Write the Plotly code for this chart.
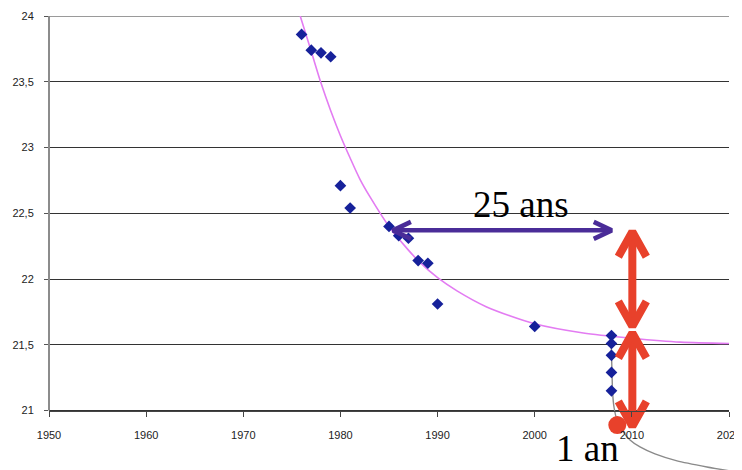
import plotly.graph_objects as go

# ---------------- data ----------------
obs_years = [1976, 1977, 1978, 1979, 1980, 1981, 1985, 1986, 1987, 1988, 1989, 1990, 2000,
             2007.9, 2007.9, 2007.9, 2007.9, 2007.9]
obs_values = [23.86, 23.74, 23.72, 23.69, 22.71, 22.54, 22.40, 22.33, 22.31, 22.14, 22.12, 21.81, 21.64,
              21.57, 21.51, 21.42, 21.29, 21.15]

trend_years = [1975.86, 1977, 1978, 1979, 1980, 1981, 1982, 1983, 1985, 1987, 1988, 1990, 1992,
               1995, 2000, 2005, 2010, 2015, 2020]
trend_values = [24.0, 23.73, 23.49, 23.28, 23.09, 22.92, 22.76, 22.63, 22.40, 22.22, 22.14, 22.01,
                21.91, 21.79, 21.66, 21.59, 21.55, 21.52, 21.51]

recent_years = [2007.86, 2007.91, 2007.96, 2008.01, 2008.16, 2008.47, 2008.99, 2009.81, 2010.84,
                2012.38, 2014.65, 2017.73, 2021.33]
recent_values = [21.574, 21.414, 21.285, 21.148, 21.027, 20.928, 20.852, 20.776, 20.723,
                 20.670, 20.617, 20.571, 20.526]

dot_year = [2008.5]
dot_value = [20.89]

# arrows: (x0, y0, x1, y1)
purple_arrow = (1985.4, 22.37, 2007.93, 22.37)
red_arrows = [(2010.05, 22.36, 2010.05, 21.64),
              (2010.05, 21.59, 2010.05, 20.88)]

x_ticks = [1950, 1960, 1970, 1980, 1990, 2000, 2010, 2020]
y_ticks = [21, 21.5, 22, 22.5, 23, 23.5, 24]

label_25 = "25 ans"
label_25_pos = (1998.6, 22.57)
label_1 = "1 an"
label_1_pos = (2005.4, 20.715)

# ---------------- layout geometry ----------------
# the page body has an 8px default margin, so the figure is drawn 8px in from the window corner
W, H = 734, 462
ML, MR, MT, MB = 41, 13, 8, 0
XR = [1950, 2020]
YR = [20.548, 24.0]
plot_w = W - ML - MR
plot_h = H - MT - MB
px_x = plot_w / (XR[1] - XR[0])   # pixels per year
px_y = plot_h / (YR[1] - YR[0])   # pixels per unit


def arrow_path(a, head_along_px, head_across_px):
    x0, y0, x1, y1 = a
    xs, ys = [x0, x1, None], [y0, y1, None]
    vertical = abs(x1 - x0) < 1e-9
    for (tx, ty, ox, oy) in [(x0, y0, x1, y1), (x1, y1, x0, y0)]:
        if vertical:
            s = 1 if oy > ty else -1
            back = s * head_along_px / px_y
            side = head_across_px / px_x
            xs += [tx - side, tx, tx + side, None]
            ys += [ty + back, ty, ty + back, None]
        else:
            s = 1 if ox > tx else -1
            back = s * head_along_px / px_x
            side = head_across_px / px_y
            xs += [tx + back, tx, tx + back, None]
            ys += [ty - side, ty, ty + side, None]
    return xs, ys


fig = go.Figure()

fig.add_trace(go.Scatter(x=trend_years, y=trend_values, mode="lines",
                         line=dict(color="#e37cf2", width=1.6, shape="spline", smoothing=0.8),
                         hoverinfo="skip", showlegend=False))
fig.add_trace(go.Scatter(x=recent_years, y=recent_values, mode="lines",
                         line=dict(color="#8a8a8a", width=1.4, shape="spline", smoothing=0.6),
                         hoverinfo="skip", showlegend=False))
fig.add_trace(go.Scatter(x=obs_years, y=obs_values, mode="markers",
                         marker=dict(symbol="diamond", size=9, color="#16219a"),
                         showlegend=False))

px_, py_ = arrow_path(purple_arrow, 18, 8.5)
fig.add_trace(go.Scatter(x=px_, y=py_, mode="lines",
                         line=dict(color="#4a2c98", width=4.5),
                         hoverinfo="skip", showlegend=False))

for a in red_arrows:
    rx, ry = arrow_path(a, 25, 14)
    fig.add_trace(go.Scatter(x=rx, y=ry, mode="lines",
                             line=dict(color="#e8412b", width=8),
                             hoverinfo="skip", showlegend=False))

fig.add_trace(go.Scatter(x=dot_year, y=dot_value, mode="markers", cliponaxis=False,
                         marker=dict(symbol="circle", size=18, color="#e8412b"),
                         showlegend=False))

# left axis line from 21 to 24
fig.add_shape(type="line", xref="paper", yref="y", x0=0, x1=0, y0=21, y1=24,
              line=dict(color="#8c8c8c", width=2), layer="above")
# top border line
fig.add_shape(type="line", xref="paper", yref="y", x0=0, x1=1, y0=24, y1=24,
              line=dict(color="#9a9a9a", width=2), layer="below")

fig.add_annotation(x=label_25_pos[0], y=label_25_pos[1], text=label_25, showarrow=False,
                   font=dict(family="Liberation Serif", size=37, color="black"),
                   xanchor="center", yanchor="middle")
fig.add_annotation(x=label_1_pos[0], y=label_1_pos[1], text=label_1, showarrow=False,
                   font=dict(family="Liberation Serif", size=37, color="black"),
                   xanchor="center", yanchor="middle")

x_pos = (21 - YR[0]) / (YR[1] - YR[0])

fig.update_layout(
    width=W, height=H,
    margin=dict(l=ML, r=MR, t=MT, b=MB, pad=0),
    paper_bgcolor="white", plot_bgcolor="white",
    separators=", ",
    showlegend=False,
    xaxis=dict(range=XR, anchor="free", position=x_pos,
               tickvals=x_ticks, ticktext=[str(v) for v in x_ticks],
               showgrid=False, zeroline=False,
               showline=True, linecolor="#444", linewidth=1,
               ticks="outside", ticklen=5, tickcolor="#444",
               ticklabelstandoff=9,
               tickfont=dict(family="Liberation Sans", size=11, color="#222")),
    yaxis=dict(range=YR, tickvals=y_ticks,
               showgrid=True, gridcolor="#333", gridwidth=1,
               zeroline=False, showline=False,
               ticks="outside", ticklen=4, tickcolor="#555",
               ticklabelstandoff=8,
               tickfont=dict(family="Liberation Sans", size=11, color="#222")),
)

fig.write_html("out.html")
